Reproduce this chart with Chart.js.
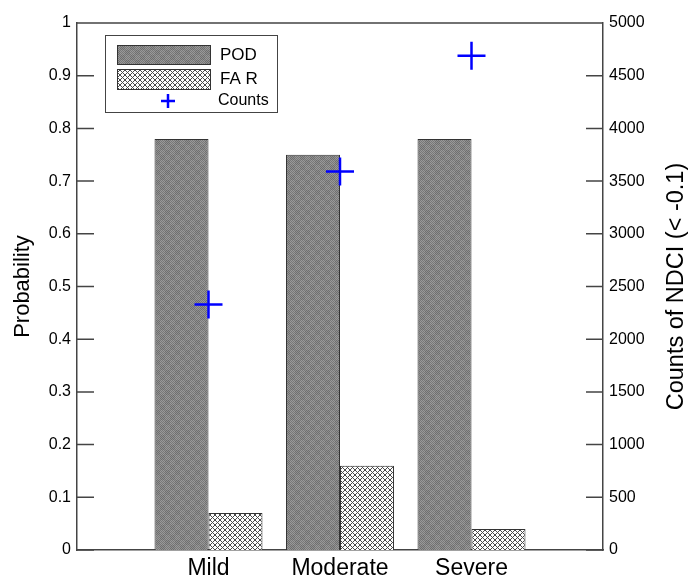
<!DOCTYPE html>
<html>
<head>
<meta charset="utf-8">
<script src="https://cdn.jsdelivr.net/npm/chart.js@4/dist/chart.umd.min.js"></script>
<style>
  html, body { margin: 0; padding: 0; background: #fff; }
  canvas { display: block; }
</style>
</head>
<body>
<canvas id="chart" width="690" height="577"></canvas>
<script>
// values
var categories = ['Mild', 'Moderate', 'Severe'];
var podValues = [0.78, 0.75, 0.78];
var farValues = [0.07, 0.16, 0.04];
var countValues = [2330, 3590, 4690];

var probStep = 0.1;
var countStep = 500;

// empty slots either side so the categories sit at 1..3 of a 0..4 axis
var labels = [''].concat(categories, ['']);
function pad(arr) {
  return [null].concat(arr, [null]);
}

function makePattern(size, paint) {
  var c = document.createElement('canvas');
  c.width = size;
  c.height = size;
  paint(c.getContext('2d'));
  return document.getElementById('chart').getContext('2d').createPattern(c, 'repeat');
}

// dithered grey for POD
var podFill = makePattern(10, function(g) {
  for (var x = 0; x < 10; x++) {
    for (var y = 0; y < 10; y++) {
      var v = (x + y) % 2 ? 0x9a : 0x78;
      if ((Math.floor(x / 5) + Math.floor(y / 5)) % 2) v -= 10;
      g.fillStyle = 'rgb(' + v + ',' + v + ',' + v + ')';
      g.fillRect(x, y, 1, 1);
    }
  }
});

// diamond cross hatch for FAR
var farFill = makePattern(5, function(g) {
  g.fillStyle = '#fff';
  g.fillRect(0, 0, 5, 5);
  g.fillStyle = '#4a4a4a';
  for (var i = 0; i < 5; i++) {
    g.fillRect(i, i, 1, 1);
    g.fillRect(i, 4 - i, 1, 1);
  }
});

var axisColor = '#444';
var fontFamily = "'Liberation Sans', Arial, sans-serif";
Chart.defaults.font.family = fontFamily;
Chart.defaults.color = '#000';

// top edge of the box plus tick marks pointing into the plot
var frame = {
  id: 'frame',
  afterDatasetsDraw: function(chart) {
    var a = chart.chartArea, ctx = chart.ctx;
    var len = 17;
    ctx.save();
    ctx.strokeStyle = axisColor;
    ctx.lineWidth = 1.5;
    ctx.beginPath();
    ctx.moveTo(a.left, a.top);
    ctx.lineTo(a.right, a.top);
    chart.scales.y.ticks.forEach(function(t) {
      var py = chart.scales.y.getPixelForValue(t.value);
      ctx.moveTo(a.left, py);
      ctx.lineTo(a.left + len, py);
    });
    chart.scales.y2.ticks.forEach(function(t) {
      var py = chart.scales.y2.getPixelForValue(t.value);
      ctx.moveTo(a.right, py);
      ctx.lineTo(a.right - len, py);
    });
    ctx.stroke();
    ctx.restore();
  }
};

// right title reads bottom-to-top in the original, Chart.js turns it the other way
var rightTitle = {
  id: 'rightTitle',
  afterDraw: function(chart) {
    var s = chart.scales.y2, ctx = chart.ctx;
    ctx.save();
    ctx.translate(677, (s.top + s.bottom) / 2);
    ctx.rotate(-Math.PI / 2);
    ctx.font = '23.5px ' + fontFamily;
    ctx.fillStyle = '#000';
    ctx.textAlign = 'center';
    ctx.textBaseline = 'middle';
    ctx.fillText('Counts of NDCI (< -0.1)', 0, 0);
    ctx.restore();
  }
};

var boxLegend = {
  id: 'boxLegend',
  afterDraw: function(chart) {
    var ctx = chart.ctx, ds = chart.data.datasets;
    ctx.save();
    ctx.fillStyle = '#fff';
    ctx.fillRect(105, 35, 172, 77);
    ctx.strokeStyle = axisColor;
    ctx.lineWidth = 1;
    ctx.strokeRect(105.5, 35.5, 172, 77);

    var rows = [
      { d: ds[1], y: 45, h: 19, ty: 55 },
      { d: ds[2], y: 69, h: 20, ty: 79 }
    ];
    rows.forEach(function(r) {
      ctx.fillStyle = r.d.backgroundColor;
      ctx.fillRect(117, r.y, 93, r.h);
      ctx.strokeStyle = r.d.borderColor;
      ctx.strokeRect(117.5, r.y + 0.5, 93, r.h);
      ctx.fillStyle = '#000';
      ctx.font = '17px ' + fontFamily;
      ctx.textBaseline = 'middle';
      ctx.fillText(r.d.label, 220, r.ty);
    });

    ctx.strokeStyle = ds[0].borderColor;
    ctx.lineWidth = 2.5;
    ctx.beginPath();
    ctx.moveTo(161, 101);
    ctx.lineTo(175, 101);
    ctx.moveTo(168, 94);
    ctx.lineTo(168, 108);
    ctx.stroke();
    ctx.fillStyle = '#000';
    ctx.font = '16px ' + fontFamily;
    ctx.fillText(ds[0].label, 218, 101);
    ctx.restore();
  }
};

new Chart(document.getElementById('chart'), {
  type: 'bar',
  data: {
    labels: labels,
    datasets: [{
      type: 'line',
      label: 'Counts',
      data: pad(countValues),
      yAxisID: 'y2',
      showLine: false,
      pointStyle: 'cross',
      pointRadius: 14,
      pointBorderWidth: 2.5,
      borderColor: '#0000ff',
      backgroundColor: '#0000ff',
      order: 0
    }, {
      label: 'POD',
      data: pad(podValues),
      yAxisID: 'y',
      backgroundColor: podFill,
      borderColor: '#333',
      borderWidth: 1,
      order: 1
    }, {
      label: 'FA R',
      data: pad(farValues),
      yAxisID: 'y',
      backgroundColor: farFill,
      borderColor: '#333',
      borderWidth: 1,
      order: 1
    }]
  },
  options: {
    responsive: false,
    animation: false,
    devicePixelRatio: 1,
    layout: { padding: { top: 23, left: 0, right: 0, bottom: 0 } },
    datasets: {
      bar: { categoryPercentage: 0.821, barPercentage: 1 }
    },
    plugins: {
      legend: { display: false },
      tooltip: { enabled: false }
    },
    scales: {
      x: {
        offset: false,
        grid: { display: false, drawTicks: false },
        border: { display: true, color: axisColor, width: 1.5 },
        ticks: { autoSkip: false, maxRotation: 0, padding: 5, font: { size: 23 }, color: '#000' },
        afterFit: function(s) { s.height = 27; }
      },
      y: {
        position: 'left',
        min: 0,
        max: 1,
        ticks: {
          stepSize: probStep, padding: 6, font: { size: 16 }, color: '#000',
          callback: function(v) { return String(+v.toFixed(1)); }
        },
        grid: { display: false, drawTicks: false },
        border: { color: axisColor, width: 1.5 },
        title: { display: true, text: 'Probability', font: { size: 22 }, color: '#000', padding: { top: 10, bottom: 0 } },
        afterFit: function(s) { s.width = 77; }
      },
      y2: {
        position: 'right',
        min: 0,
        max: 5000,
        ticks: {
          stepSize: countStep, padding: 6, font: { size: 16 }, color: '#000',
          callback: function(v) { return String(v); }
        },
        grid: { display: false, drawTicks: false },
        border: { color: axisColor, width: 1.5 },
        afterFit: function(s) { s.width = 87; }
      }
    }
  },
  plugins: [frame, rightTitle, boxLegend]
});
</script>
</body>
</html>
